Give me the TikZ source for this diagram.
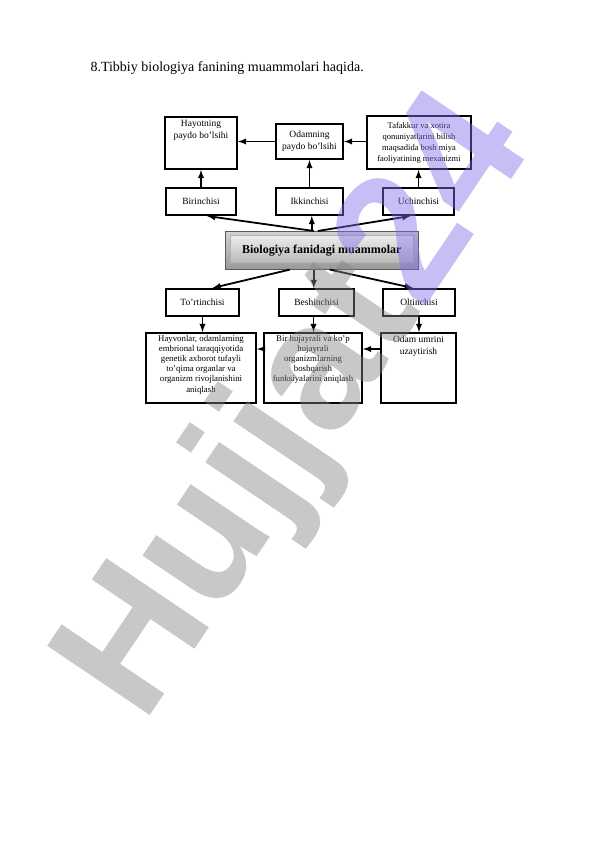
\documentclass[tikz,border=0pt]{standalone}
\usepackage{fontspec}
\setmainfont{Liberation Serif}
\newfontfamily\wmfont{Liberation Sans}
\usetikzlibrary{positioning,shadings}
\definecolor{wmgray}{RGB}{133,133,133}
\definecolor{wmpurple}{RGB}{133,111,233}

\begin{document}
\begin{tikzpicture}[x=1pt,y=-1pt,>=latex,
	quti/.style={draw,line width=2pt,inner sep=2pt,align=center,anchor=north west,font=\fontsize{9.5}{12}\selectfont},
	strelka/.style={->,line width=1.8pt},
	markaz/.style={draw=gray!70!black,line width=0.6pt,top color=gray!35,bottom color=gray!80,anchor=north west,
		minimum width=193pt,minimum height=38pt,font=\bfseries\fontsize{12}{14}\selectfont,
		path picture={\draw[gray!60,top color=gray!8,bottom color=gray!65]
			([shift={(5pt,-4pt)}]path picture bounding box.north west) rectangle ([shift={(-5pt,7pt)}]path picture bounding box.south east);}}]
	\useasboundingbox (0,0) rectangle (596,842);
	\node[anchor=base west,font=\fontsize{14}{16}\selectfont] (sarlavha) at (87,72) {8.Tibbiy biologiya fanining muammolari haqida.};

	\node[quti] (hayot) at (164,116) {\parbox[t][48pt][t]{68pt}{\centering\vspace*{1pt}Hayotning\\paydo bo’lsihi}};
	\node[quti,minimum width=67pt,minimum height=35pt] (odam) at (275,123) {Odamning\\paydo bo’lsihi};
	\node[quti,minimum width=104pt,minimum height=53pt,font=\fontsize{8.5}{11}\selectfont] (tafakkur) at (366,115) {Tafakkur va xotira\\qonuniyatlarini bilish\\maqsadida bosh miya\\faoliyatining mexanizmi};

	\node[quti,minimum width=70pt,minimum height=27pt] (birinchi) at (165,187) {Birinchisi};
	\node[quti,minimum width=67pt,minimum height=27pt] (ikkinchi) at (275,187) {Ikkinchisi};
	\node[quti,minimum width=71pt,minimum height=27pt] (uchinchi) at (382,187) {Uchinchisi};

	\node[markaz] (muammo) at (225,231) {Biologiya fanidagi muammolar};

	\node[quti,minimum width=73pt,minimum height=27pt] (tortinchi) at (165,288) {To’rtinchisi};
	\node[quti,minimum width=75pt,minimum height=27pt] (beshinchi) at (278,288) {Beshinchisi};
	\node[quti,minimum width=72pt,minimum height=27pt] (oltinchi) at (382,288) {Oltinchisi};

	\node[quti,font=\fontsize{8.8}{10.2}\selectfont] (hayvon) at (145,332) {\parbox[t][66pt][t]{106pt}{\centering\vspace*{0pt}Hayvonlar, odamlarning\\embrional taraqqiyotida\\genetik axborot tufayli\\to’qima organlar va\\organizm rivojlanishini\\aniqlash}};
	\node[quti,font=\fontsize{8.8}{10}\selectfont] (bir) at (263,332) {\parbox[t][66pt][t]{94pt}{\centering\vspace*{0pt}Bir hujayrali va ko’p\\hujayrali\\organizmlarning\\boshqarish\\funksiyalarini aniqlash}};
	\node[quti] (umr) at (380,332) {\parbox[t][66pt][t]{71pt}{\centering\vspace*{1pt}Odam umrini\\uzaytirish}};

	\draw[strelka] (birinchi.north) -- (birinchi.north |- hayot.south);
	\draw[strelka] (ikkinchi.north) -- (odam.south);
	\draw[strelka] (uchinchi.north) -- (uchinchi.north |- tafakkur.south);
	\draw[strelka] (odam.west) -- (odam.west -| hayot.east);
	\draw[strelka] (tafakkur.west |- odam.east) -- (odam.east);

	\draw[strelka] ([xshift=-8pt]muammo.north) -- ([xshift=6pt]birinchi.south);
	\draw[strelka] ([xshift=-10pt]muammo.north) -- ([xshift=-10pt]muammo.north |- ikkinchi.south);
	\draw[strelka] ([xshift=-4pt]muammo.north) -- ([xshift=-8pt]uchinchi.south);

	\draw[strelka] ([xshift=-32pt]muammo.south) -- ([xshift=10pt]tortinchi.north);
	\draw[strelka] ([xshift=-8pt]muammo.south) -- ([xshift=-8pt]muammo.south |- beshinchi.north);
	\draw[strelka] ([xshift=8pt]muammo.south) -- ([xshift=-6pt]oltinchi.north);

	\draw[strelka] (tortinchi.south) -- (tortinchi.south |- hayvon.north);
	\draw[strelka] ([xshift=-3pt]beshinchi.south) -- ([xshift=-3pt]beshinchi.south |- bir.north);
	\draw[strelka] (oltinchi.south) -- (oltinchi.south |- umr.north);
	\draw[strelka] ([yshift=-17pt]bir.north west) -- ([yshift=-17pt]bir.north west -| hayvon.east);
	\draw[strelka] ([yshift=-17pt]umr.north west) -- ([yshift=-17pt]umr.north west -| bir.east);

	\node[rotate=56,anchor=base west,inner sep=0pt,opacity=0.45,text opacity=0.45,font=\wmfont\bfseries\fontsize{180}{180}\selectfont] (suv) at (143,726) {\textcolor{wmgray}{Hujjat}\textcolor{wmpurple}{24}};
\end{tikzpicture}
\end{document}
